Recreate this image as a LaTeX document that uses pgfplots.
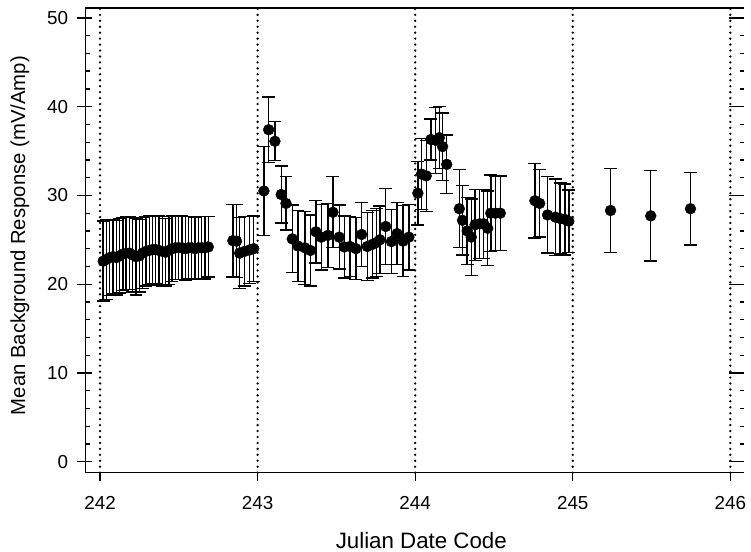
\documentclass[border=0pt]{standalone}
\usepackage{pgfplots}
\pgfplotsset{compat=1.18}
\usepackage{pgfplotstable}
\usepackage{fontspec}
\setmainfont{Liberation Sans}

\pgfplotstableread{
x y e
242.020 22.6 4.5
242.041 22.8 4.5
242.062 23.0 4.3
242.083 23.1 4.2
242.103 23.0 4.2
242.124 23.2 4.2
242.145 23.4 4.1
242.166 23.5 4.1
242.187 23.5 4.1
242.207 23.3 4.2
242.228 23.1 4.3
242.249 23.2 4.1
242.270 23.5 4.0
242.291 23.7 3.9
242.312 23.8 3.9
242.332 23.9 3.8
242.353 23.9 3.8
242.374 23.8 3.9
242.395 23.7 3.9
242.416 23.6 3.8
242.437 23.8 3.8
242.457 24.0 3.7
242.478 24.1 3.6
242.499 24.1 3.6
242.520 24.1 3.6
242.541 24.0 3.6
242.562 24.1 3.5
242.582 24.1 3.5
242.603 24.0 3.5
242.624 24.1 3.5
242.645 24.1 3.5
242.666 24.1 3.5
242.687 24.2 3.4
242.843 24.9 4.1
242.866 24.85 4.1
242.886 23.5 4.0
242.917 23.7 3.9
242.948 23.85 3.8
242.975 24.0 3.7
243.040 30.5 5.0
243.070 37.4 3.7
243.110 36.1 2.2
243.150 30.1 3.2
243.180 29.1 3.0
243.220 25.1 3.8
243.256 24.3 4.0
243.300 24.1 4.1
243.335 23.8 4.0
243.370 25.9 3.5
243.404 25.3 3.7
243.446 25.5 3.6
243.478 28.1 4.0
243.518 25.3 3.6
243.550 24.2 3.5
243.586 24.25 3.4
243.624 24.0 3.5
243.660 25.6 3.6
243.696 24.25 3.8
243.730 24.5 3.8
243.755 24.7 3.8
243.776 25.0 3.8
243.813 26.5 4.3
243.849 24.8 3.6
243.885 25.7 3.5
243.923 24.85 4.0
243.960 25.3 3.7
244.017 30.25 3.6
244.040 32.4 4.0
244.070 32.2 4.0
244.100 36.3 2.3
244.130 36.2 3.7
244.153 36.5 3.5
244.174 35.5 3.8
244.200 33.5 3.3
244.280 28.5 4.4
244.300 27.2 3.9
244.330 26.0 3.8
244.356 25.3 4.3
244.380 26.7 4.0
244.410 26.8 3.9
244.435 26.8 3.9
244.460 26.3 4.2
244.480 28.0 4.3
244.510 28.0 4.2
244.540 28.0 4.2
244.760 29.4 4.2
244.790 29.1 3.8
244.840 27.8 4.3
244.890 27.55 4.3
244.920 27.4 4.0
244.950 27.3 4.0
244.975 27.1 3.5
245.240 28.3 4.7
245.495 27.7 5.1
245.747 28.5 4.1
}\datatable

\begin{document}
\begin{tikzpicture}
\pgfplotsset{
  common/.style={scale only axis, width=665pt, height=469pt,
    xmin=241.906, xmax=246.088, ymin=-1.23, ymax=51.12,
    /pgf/number format/assume math mode=true},
}
% main axis
\begin{axis}[common,
  axis x line*=bottom, axis y line*=left,
  axis line style={line width=1.3pt, black},
  xtick={242,243,244,245,246}, ytick={0,10,20,30,40,50},
  minor tick num=0,
  tick align=outside, major tick length=8pt,
  tick style={line width=1.3pt, black},
  xmajorgrids,
  major x grid style={black, line width=2.6pt, line cap=round, dash pattern=on 0pt off 6pt},
  xticklabel style={font=\fontsize{19}{21}\selectfont, anchor=north, inner sep=0pt, yshift=-16pt},
  yticklabel style={font=\fontsize{19}{21}\selectfont, anchor=east, inner sep=0pt, xshift=-9pt},
  xlabel={Julian Date Code},
  xlabel style={at={(axis description cs:0.51,-0.145)}, anchor=center, font=\fontsize{22.5}{26}\selectfont},
  ylabel={Mean Background Response (mV/Amp)},
  ylabel style={at={(axis description cs:-0.0992,0.51)}, anchor=center, font=\fontsize{20.5}{24}\selectfont},
]
\addplot[black, only marks, mark=*, mark size=5.5pt,
  error bars/.cd, y dir=both, y explicit,
  error bar style={line width=1.4pt, black},
  error mark options={line width=1.4pt, black, mark size=6.5pt, rotate=90}]
  table[x=x, y=y, y error=e] {\datatable};
\end{axis}
% left inner ticks
\begin{axis}[common,
  hide x axis, axis y line*=left,
  axis line style={line width=1.3pt, black},
  ytick={0,10,20,30,40,50}, minor y tick num=4,
  yticklabels={},
  tick align=inside, major tick length=7pt, minor tick length=5pt,
  tick style={line width=1.3pt, black},
]
\addplot[draw=none] coordinates {(242,0)};
\end{axis}
% top line and right ticks
\begin{axis}[common,
  axis x line*=top, axis y line*=right,
  x axis line style={line width=1.3pt, black},
  y axis line style={draw=none},
  xtick=\empty,
  ytick={0,10,20,30,40,50}, minor y tick num=4,
  yticklabels={},
  tick align=inside, major tick length=15pt, minor tick length=4pt,
  tick style={line width=1.3pt, black},
]
\addplot[draw=none] coordinates {(242,0)};
\end{axis}
\path[use as bounding box] (-86pt,-79pt) rectangle (665pt,477pt);
\end{tikzpicture}
\end{document}
